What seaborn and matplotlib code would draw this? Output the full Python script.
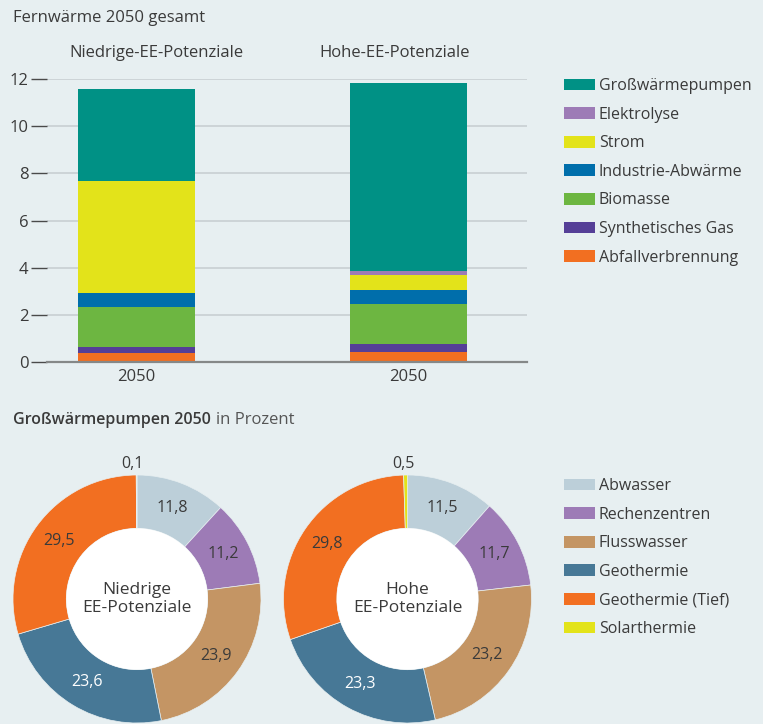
import matplotlib
matplotlib.use("Agg")
import matplotlib.pyplot as plt
from matplotlib.patches import Patch, Circle
import numpy as np
import pandas as pd
import seaborn as sns

# --- data -------------------------------------------------------------
szenarien = ["Niedrige-EE-Potenziale", "Hohe-EE-Potenziale"]
quellen = ["Großwärmepumpen", "Elektrolyse", "Strom", "Industrie-Abwärme",
           "Biomasse", "Synthetisches Gas", "Abfallverbrennung"]
werte_niedrig = [3.90, 0.00, 4.74, 0.60, 1.69, 0.26, 0.39]
werte_hoch = [7.96, 0.17, 0.64, 0.59, 1.69, 0.34, 0.44]
jahr_labels = ["2050", "2050"]
y_ticks = [0, 2, 4, 6, 8, 10, 12]

gwp_quellen = ["Abwasser", "Rechenzentren", "Flusswasser", "Geothermie",
               "Geothermie (Tief)", "Solarthermie"]
anteile_niedrig = [11.8, 11.2, 23.9, 23.6, 29.5, 0.1]
anteile_hoch = [11.5, 11.7, 23.2, 23.3, 29.8, 0.5]
donut_titel = ["Niedrige\nEE-Potenziale", "Hohe\nEE-Potenziale"]

# --- style ------------------------------------------------------------
BG = "#e7eff1"
TXT = "#3a3a3a"
farben_quellen = {
    "Großwärmepumpen": "#009185",
    "Elektrolyse": "#9d7bb6",
    "Strom": "#e3e31a",
    "Industrie-Abwärme": "#006eab",
    "Biomasse": "#6db641",
    "Synthetisches Gas": "#553f97",
    "Abfallverbrennung": "#f26f21",
}
farben_gwp = ["#bccfd9", "#9d7bb6", "#c49564", "#477896", "#f26f21", "#e3e31a"]

sns.set_theme(style="white")
plt.rcParams["font.family"] = ["Open Sans", "DejaVu Sans"]
plt.rcParams["text.color"] = TXT
plt.rcParams["axes.labelcolor"] = TXT
plt.rcParams["xtick.color"] = TXT
plt.rcParams["ytick.color"] = TXT

W, H = 763, 724
fig = plt.figure(figsize=(W / 100, H / 100), dpi=100, facecolor=BG)


def box(x0, y0, x1, y1):
    # pixel box (top-left origin) -> figure fraction
    return [x0 / W, 1 - y1 / H, (x1 - x0) / W, (y1 - y0) / H]


# --- stacked bars -----------------------------------------------------
rows = []
for pos, vals in enumerate([werte_niedrig, werte_hoch]):
    for q, v in zip(quellen, vals):
        rows.append({"pos": pos, "quelle": q, "wert": v})
df = pd.DataFrame(rows)

ax = fig.add_axes(box(47, 79, 527, 362.3))
ax.set_facecolor(BG)
sns.histplot(data=df, x="pos", weights="wert", hue="quelle", hue_order=quellen,
             multiple="stack", discrete=True, shrink=0.431, palette=farben_quellen,
             alpha=1, linewidth=0, legend=False, ax=ax)
ax.set_xlim(-0.33, 1.438)
ax.set_ylim(0, 12)
ax.set_xticks([0, 1], jahr_labels)
ax.set_yticks(y_ticks)
ax.set_xlabel("")
ax.set_ylabel("")
ax.set_axisbelow(True)
ax.yaxis.grid(True, color="#c6cdd0", linewidth=1.1)
for s in ["left", "right", "top"]:
    ax.spines[s].set_visible(False)
ax.spines["bottom"].set_color("#858888")
ax.spines["bottom"].set_linewidth(1.6)
ax.tick_params(axis="y", left=True, length=11.5, width=1.0, pad=2, labelsize=12,
               color="#4a4a4a")
ax.tick_params(axis="x", bottom=False, length=0, pad=5, labelsize=12)

fig.text(13 / W, 1 - 18 / H, "Fernwärme 2050 gesamt", fontsize=12, va="center", ha="left")
fig.text(156 / W, 1 - 53 / H, szenarien[0], fontsize=12, va="center", ha="center")
fig.text(395 / W, 1 - 53 / H, szenarien[1], fontsize=12, va="center", ha="center")

handles = [Patch(facecolor=farben_quellen[q], edgecolor="none") for q in quellen]
fig.legend(handles, quellen, loc="upper left", bbox_to_anchor=(564 / W, 1 - 78 / H),
           frameon=False, fontsize=11.5, handlelength=1.93, handleheight=0.75,
           handletextpad=0.25, labelspacing=0.79, borderpad=0, borderaxespad=0)

# --- donuts -----------------------------------------------------------
t1 = fig.text(13 / W, 1 - 420 / H, "Großwärmepumpen 2050", fontsize=11.5,
              fontweight="semibold", va="center", ha="left")
fig.canvas.draw()
bb = t1.get_window_extent()
fig.text(bb.x1 / W + 5 / W, 1 - 420 / H, "in Prozent", fontsize=12, va="center",
         ha="left", color="#555555")

R_PX = 124
for cx, anteile, titel in [(137, anteile_niedrig, donut_titel[0]),
                           (407.5, anteile_hoch, donut_titel[1])]:
    half = 130
    dax = fig.add_axes(box(cx - half, 599 - half, cx + half, 599 + half))
    dax.set_facecolor("none")
    wedges, _ = dax.pie(anteile, colors=farben_gwp, startangle=90, counterclock=False,
                        radius=1, wedgeprops=dict(width=0.43, edgecolor=BG, linewidth=0.5))
    lim = half / R_PX
    dax.set_xlim(-lim, lim)
    dax.set_ylim(-lim, lim)
    dax.set_aspect("equal")
    dax.axis("off")
    dax.add_patch(Circle((0, 0), 0.57, facecolor="white", edgecolor="none"))
    dax.text(0, 0, titel, ha="center", va="center", fontsize=12.5, linespacing=1.25)
    for w, val, name in zip(wedges, anteile, gwp_quellen):
        mid = np.deg2rad((w.theta1 + w.theta2) / 2)
        lbl = f"{val:.1f}".replace(".", ",")
        if val < 2:
            dax.text(-0.035, 1.085, lbl, ha="center", va="center", fontsize=11.5)
        else:
            col = "white" if name == "Geothermie" else TXT
            dax.text(0.785 * np.cos(mid), 0.785 * np.sin(mid), lbl, ha="center",
                     va="center", fontsize=11.5, color=col)

handles2 = [Patch(facecolor=c, edgecolor="none") for c in farben_gwp]
fig.legend(handles2, gwp_quellen, loc="upper left", bbox_to_anchor=(564 / W, 1 - 478 / H),
           frameon=False, fontsize=11.5, handlelength=1.93, handleheight=0.75,
           handletextpad=0.25, labelspacing=0.79, borderpad=0, borderaxespad=0)

fig.savefig("out.png", dpi=100, facecolor=BG)
